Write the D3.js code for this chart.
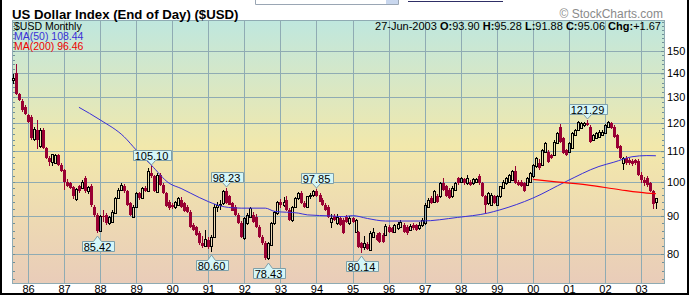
<!DOCTYPE html>
<html>
<head>
<meta charset="utf-8">
<script src="https://cdn.jsdelivr.net/npm/d3@7"></script>
<style>
  body { margin: 0; background: #fff; }
  svg { display: block; font-family: "Liberation Sans", Arial, sans-serif; }
</style>
</head>
<body>
<div id="chart"></div>
<script>
// Monthly bars, Aug 1985 .. Jun 2003
var firstMonth = new Date(1985, 7, 1);
var endMonth = new Date(2003, 6, 1);

var opens = [
  137.0, 140.0, 131.2, 128.3, 126.3,
  123.0, 122.4, 114.2, 117.5, 111.6, 117.5, 111.0, 107.6, 106.3, 106.0, 108.7, 105.4,
  103.8, 100.1, 99.6, 98.5, 94.9, 98.6, 98.1, 101.3, 97.1, 98.7, 92.6, 90.3,
  85.9, 90.0, 90.3, 88.0, 88.4, 90.8, 95.1, 97.6, 98.6, 97.1, 93.6, 89.8,
  92.6, 96.6, 95.1, 98.1, 97.1, 102.7, 101.7, 96.9, 102.2, 99.1, 96.6, 94.1,
  93.1, 92.4, 93.1, 94.6, 93.6, 92.6, 91.2, 87.5, 86.9, 85.3, 82.7, 82.0,
  83.6, 82.0, 84.4, 92.6, 93.1, 93.6, 97.1, 95.6, 93.6, 92.6, 90.3, 88.0,
  84.0, 88.0, 89.8, 90.3, 89.8, 87.1, 84.4, 82.7, 78.9, 82.3, 88.0, 90.8,
  94.1, 93.1, 94.6, 91.7, 88.9, 92.6, 95.1, 96.6, 93.6, 92.6, 95.6, 96.1,
  97.1, 96.1, 94.6, 93.1, 92.6, 88.4, 90.0, 88.0, 89.4, 88.9, 89.8, 88.0,
  89.4, 85.7, 85.7, 82.7, 81.8, 82.5, 81.0, 84.4, 84.9, 85.3, 84.9, 84.9,
  87.1, 86.6, 85.7, 86.6, 87.1, 87.5, 87.1, 86.2, 87.5, 87.5, 86.6, 87.5,
  88.0, 92.6, 95.1, 94.1, 95.6, 95.6, 99.6, 98.6, 97.6, 95.6, 97.6, 101.1,
  100.1, 100.8, 99.6, 100.1, 99.6, 100.1, 101.7, 99.6, 95.6, 93.6, 93.1, 95.6,
  93.1, 95.6, 98.1, 99.6, 100.1, 100.6, 103.3, 100.1, 100.1, 99.6, 99.1, 100.1,
  101.7, 104.9, 105.9, 105.4, 109.8, 109.8, 108.7, 108.7, 112.7, 118.7, 114.5, 110.4,
  109.8, 111.0, 115.7, 117.5, 118.1, 119.3, 120.2, 118.7, 113.9, 114.5, 115.1, 115.7,
  116.3, 118.7, 119.9, 118.7, 115.7, 111.6, 105.9, 107.6, 107.0, 106.8, 107.0, 106.8,
  102.2, 100.6, 101.1, 99.6, 97.1, 93.90
];

var highs = [
  139.6, 144.0, 131.8, 129.2, 126.8,
  123.6, 123.0, 118.5, 121.2, 118.0, 118.2, 111.5, 108.5, 109.2, 109.0, 109.2, 105.9,
  104.2, 100.8, 100.0, 98.9, 98.2, 99.0, 100.5, 102.0, 98.9, 99.3, 93.0, 90.8,
  90.4, 91.7, 90.8, 89.9, 91.6, 95.5, 98.0, 99.8, 99.3, 97.6, 94.0, 93.0,
  96.9, 97.0, 98.5, 98.6, 104.3, 105.10, 102.2, 102.9, 102.7, 99.6, 97.0, 94.5,
  93.6, 94.4, 95.5, 95.3, 94.0, 93.1, 91.6, 88.0, 87.3, 85.8, 84.6, 86.2,
  84.2, 84.9, 93.3, 94.1, 94.6, 97.4, 98.23, 96.1, 94.0, 93.2, 90.8, 88.5,
  89.8, 90.8, 92.6, 91.2, 90.5, 87.5, 84.9, 83.2, 83.0, 88.2, 91.5, 94.4,
  94.8, 95.3, 95.6, 92.2, 92.8, 95.3, 96.9, 97.1, 94.3, 95.8, 96.5, 97.4,
  97.85, 96.5, 95.0, 93.6, 93.0, 90.6, 90.5, 90.5, 89.9, 89.4, 90.4, 90.0,
  89.8, 89.2, 86.0, 83.1, 84.6, 83.0, 86.0, 86.6, 85.5, 85.7, 85.3, 87.7,
  87.6, 87.0, 87.9, 88.2, 88.8, 88.0, 87.5, 87.7, 88.0, 87.9, 88.2, 89.3,
  93.6, 95.0, 95.8, 97.6, 96.2, 100.1, 101.1, 99.1, 98.1, 98.6, 100.1, 101.6,
  101.4, 101.3, 102.2, 100.6, 101.2, 101.3, 102.5, 100.0, 96.0, 96.9, 96.5, 96.0,
  95.9, 98.9, 100.5, 101.5, 102.6, 103.8, 104.9, 100.6, 100.5, 100.0, 101.5, 103.1,
  105.8, 108.0, 107.2, 110.8, 113.1, 110.3, 109.2, 113.7, 116.8, 119.6, 115.0, 110.9,
  113.1, 116.8, 117.9, 120.7, 120.3, 120.5, 121.29, 119.1, 116.1, 116.7, 117.3, 117.3,
  119.7, 120.9, 120.3, 119.1, 116.1, 112.0, 108.0, 108.2, 107.6, 107.2, 107.4, 107.3,
  103.0, 101.6, 101.8, 100.1, 97.5, 95.28
];

var lows = [
  135.4, 130.8, 128.4, 124.3, 122.9,
  120.0, 113.8, 113.5, 110.6, 111.0, 110.6, 107.2, 105.2, 104.9, 105.6, 105.0, 103.0,
  97.6, 98.5, 97.8, 94.8, 94.3, 96.6, 97.7, 96.6, 96.4, 92.4, 89.8, 85.42,
  85.6, 88.4, 87.6, 87.6, 88.0, 90.5, 94.8, 97.2, 96.6, 92.8, 89.9, 89.4,
  92.2, 94.5, 94.8, 96.8, 96.8, 101.2, 96.8, 96.5, 98.6, 96.3, 92.4, 91.8,
  92.0, 92.0, 92.8, 92.3, 91.2, 90.9, 86.8, 85.9, 84.6, 82.3, 81.5, 81.8,
  81.3, 80.60, 84.0, 91.0, 91.8, 93.2, 93.3, 93.0, 91.3, 90.0, 87.7, 84.0,
  83.6, 87.5, 89.4, 88.0, 86.8, 84.0, 82.3, 78.6, 78.43, 81.9, 87.6, 90.4,
  92.2, 92.5, 91.5, 88.6, 88.2, 92.2, 94.6, 93.3, 92.2, 92.2, 94.8, 95.3,
  95.3, 94.0, 92.8, 91.4, 89.5, 86.6, 88.6, 87.6, 87.2, 85.0, 88.0, 87.6,
  88.0, 85.4, 81.5, 80.14, 81.0, 81.0, 80.8, 84.0, 83.2, 82.7, 82.8, 84.5,
  85.3, 85.3, 85.3, 86.2, 86.8, 85.4, 84.9, 85.9, 86.3, 85.9, 86.3, 87.1,
  87.6, 92.2, 93.3, 93.8, 93.8, 95.2, 97.3, 95.3, 94.8, 95.2, 97.2, 99.2,
  99.6, 99.2, 99.2, 98.7, 99.2, 99.6, 99.2, 95.3, 90.8, 93.2, 92.8, 93.3,
  92.8, 95.2, 97.8, 99.2, 99.8, 100.3, 99.3, 98.8, 98.3, 96.8, 98.8, 99.8,
  101.3, 104.5, 103.9, 105.0, 109.4, 106.1, 107.2, 108.3, 112.3, 112.9, 109.0, 108.3,
  109.4, 110.6, 115.3, 117.1, 117.7, 118.7, 118.9, 112.9, 113.5, 114.1, 114.7, 115.3,
  115.9, 118.3, 117.7, 114.7, 110.6, 107.2, 103.8, 105.5, 105.5, 105.2, 105.5, 101.8,
  99.8, 98.8, 98.5, 97.0, 92.0, 91.88
];

var closes = [
  137.9, 131.2, 128.9, 124.8, 123.3,
  120.5, 114.5, 117.8, 113.9, 117.5, 111.0, 107.6, 106.3, 108.9, 108.7, 105.4, 103.3,
  100.1, 98.9, 98.1, 95.6, 97.9, 97.1, 100.1, 97.1, 98.5, 93.1, 90.3, 85.9,
  90.0, 89.6, 88.0, 89.6, 91.2, 95.1, 97.6, 99.1, 97.1, 93.1, 90.3, 92.6,
  96.6, 95.1, 98.1, 97.1, 103.3, 101.7, 97.1, 102.2, 99.1, 96.6, 92.9, 92.2,
  92.6, 94.1, 95.1, 92.6, 91.5, 91.2, 87.1, 86.2, 84.9, 82.7, 82.0, 83.7,
  81.8, 84.4, 92.6, 93.1, 93.3, 97.1, 93.6, 93.1, 91.5, 90.3, 88.0, 84.4,
  89.4, 90.3, 92.2, 88.4, 87.1, 84.4, 82.7, 78.9, 82.7, 88.0, 91.2, 94.1,
  93.1, 94.1, 91.7, 88.9, 92.6, 95.1, 96.6, 93.6, 92.6, 95.6, 96.1, 97.1,
  95.6, 94.1, 93.1, 91.7, 89.8, 89.4, 88.9, 89.8, 87.5, 85.3, 88.4, 89.4,
  88.4, 88.9, 81.8, 81.4, 82.7, 81.2, 85.3, 85.7, 83.6, 83.1, 83.1, 87.3,
  85.7, 85.7, 87.5, 87.8, 88.4, 85.7, 85.3, 87.3, 86.6, 86.2, 87.5, 88.9,
  93.1, 94.6, 93.6, 97.1, 94.1, 99.6, 97.6, 95.6, 95.1, 98.1, 99.6, 99.6,
  101.1, 99.6, 101.1, 99.1, 100.8, 100.8, 99.6, 95.6, 93.1, 96.6, 96.1, 93.6,
  95.6, 98.6, 100.1, 101.1, 102.2, 103.3, 99.6, 99.1, 98.6, 97.1, 101.1, 102.7,
  105.4, 107.6, 104.3, 110.4, 112.7, 106.5, 107.6, 113.3, 116.3, 113.3, 109.3, 108.7,
  112.7, 116.3, 117.5, 120.5, 119.9, 119.9, 119.3, 113.3, 115.7, 116.3, 116.9, 116.9,
  119.3, 120.5, 118.1, 115.1, 111.0, 107.6, 107.6, 105.9, 105.9, 105.6, 105.9, 102.2,
  100.6, 99.6, 99.1, 97.1, 93.39, 95.06
];

// moving averages
var ma50Months = ["1987-06", "1988-01", "1988-09", "1989-01", "1989-06", "1989-12", "1990-04",
  "1990-10", "1991-01", "1991-04", "1991-09", "1991-12", "1992-08", "1992-11", "1993-07",
  "1993-10", "1994-06", "1994-10", "1995-01", "1995-06", "1995-12", "1996-12", "1997-12",
  "1998-10", "1999-02", "2000-01", "2000-12", "2001-11", "2002-04", "2002-10", "2003-03", "2003-06"];
var ma50Values = [126.0, 121.2, 115.0, 110.4, 105.4, 99.6, 98.0,
  95.3, 94.1, 93.1, 92.3, 92.2, 92.2, 91.3, 90.8,
  90.3, 90.0, 89.8, 90.1, 89.3, 88.6, 88.6, 89.6,
  90.8, 91.7, 95.1, 100.1, 104.9, 106.3, 108.1, 108.5, 108.44];

var ma200Months = ["2000-01", "2000-08", "2001-07", "2002-06", "2003-03", "2003-06"];
var ma200Values = [100.8, 100.1, 99.1, 97.6, 96.6, 96.46];

// labelled extremes
var calloutMonths = ["1987-12", "1989-06", "1991-02", "1991-07", "1992-09", "1994-01", "1995-04", "2001-07"];
var calloutValues = [85.42, 105.10, 80.60, 98.23, 78.43, 97.85, 80.14, 121.29];
var calloutSides = ["low", "high", "low", "high", "low", "high", "low", "high"];

var yTicks = [80, 90, 100, 110, 120, 130, 140, 150];

var svgWidth = 689;
var svgHeight = 295;
var plot = { left: 12, top: 21, right: 665, bottom: 284 };

var gridColor = "#8fabb3";
var downColor = "#990033";
var upColor = "#000000";
var ma50Color = "#3a2fd8";
var ma200Color = "#ff0000";

var parseMonth = d3.timeParse("%Y-%m");
var months = d3.timeMonth.range(firstMonth, endMonth);

var svg = d3.select("#chart").append("svg")
    .attr("width", svgWidth)
    .attr("height", svgHeight);

// scales
var x = d3.scaleTime()
    .domain([new Date(1986, 0, 1), new Date(2003, 0, 1)])
    .range([28, 641]);

var y = d3.scaleLog()
    .domain([72.9, 164.6])
    .range([plot.bottom, plot.top]);

// background gradient
var defs = svg.append("defs");
var grad = defs.append("linearGradient")
    .attr("id", "bg")
    .attr("x1", 0).attr("y1", 0).attr("x2", 0).attr("y2", 1);
grad.append("stop").attr("offset", "0%").attr("stop-color", "#bfe7de");
grad.append("stop").attr("offset", "48%").attr("stop-color", "#f2e8ab");
grad.append("stop").attr("offset", "100%").attr("stop-color", "#e9ccb9");

svg.append("rect")
    .attr("x", plot.left)
    .attr("y", plot.top)
    .attr("width", plot.right - plot.left)
    .attr("height", plot.bottom - plot.top)
    .attr("fill", "url(#bg)");

// horizontal grid
svg.append("g")
    .attr("shape-rendering", "crispEdges")
    .selectAll("line")
    .data(yTicks)
    .enter()
    .append("line")
    .attr("x1", plot.left)
    .attr("x2", plot.right)
    .attr("y1", d => Math.round(y(d)) + 0.5)
    .attr("y2", d => Math.round(y(d)) + 0.5)
    .attr("stroke", gridColor);

// x axis with vertical grid
var xAxis = d3.axisBottom(x)
    .ticks(d3.timeYear.every(1))
    .tickFormat(d3.timeFormat("%y"))
    .tickSize(-(plot.bottom - plot.top))
    .tickPadding(2);

var xAxisG = svg.append("g")
    .attr("transform", `translate(0, ${plot.bottom})`)
    .call(xAxis);
xAxisG.select(".domain").remove();
xAxisG.selectAll("line").attr("stroke", gridColor).attr("shape-rendering", "crispEdges");
xAxisG.selectAll("text")
    .attr("y", 8.6)
    .attr("dy", null)
    .attr("fill", "#000")
    .style("font-size", "11px")
    .style("font-family", "'Liberation Sans', Arial, sans-serif");

// minor ticks on both edges
var minorTicks = d3.range(74, 165, 2);
var tickG = svg.append("g").attr("stroke", "#6f8f98").attr("shape-rendering", "crispEdges");
tickG.selectAll(".lt")
    .data(minorTicks)
    .enter()
    .append("line")
    .attr("x1", plot.left)
    .attr("x2", plot.left + 3)
    .attr("y1", d => Math.round(y(d)) + 0.5)
    .attr("y2", d => Math.round(y(d)) + 0.5);
tickG.selectAll(".rt")
    .data(minorTicks)
    .enter()
    .append("line")
    .attr("x1", plot.right - 3)
    .attr("x2", plot.right)
    .attr("y1", d => Math.round(y(d)) + 0.5)
    .attr("y2", d => Math.round(y(d)) + 0.5);

// y axis labels at the right
var yAxis = d3.axisRight(y)
    .tickValues(yTicks)
    .tickFormat(d3.format("d"))
    .tickSize(-4)
    .tickPadding(2);

var yAxisG = svg.append("g")
    .attr("transform", `translate(${plot.right}, 0)`)
    .call(yAxis);
yAxisG.select(".domain").remove();
yAxisG.selectAll("line").attr("stroke", "#6f8f98");
yAxisG.selectAll("text")
    .attr("fill", "#000")
    .style("font-size", "11px")
    .style("font-family", "'Liberation Sans', Arial, sans-serif");

// plot frame
svg.append("rect")
    .attr("x", plot.left + 0.5)
    .attr("y", plot.top - 0.5)
    .attr("width", plot.right - plot.left - 1)
    .attr("height", plot.bottom - plot.top)
    .attr("fill", "none")
    .attr("stroke", gridColor);

// candles
var bars = months.map(function (m, i) {
    return { date: m, o: opens[i], h: highs[i], l: lows[i], c: closes[i] };
});

var candleG = svg.append("g").attr("shape-rendering", "crispEdges");

bars.forEach(function (d) {
    var cx = Math.round(x(d.date));
    var up = d.c >= d.o;
    var col = up ? upColor : downColor;
    var yH = Math.round(y(d.h));
    var yL = Math.round(y(d.l));
    var yTop = Math.round(y(Math.max(d.o, d.c)));
    var yBot = Math.round(y(Math.min(d.o, d.c)));

    if (up) {
        candleG.append("line")
            .attr("x1", cx + 0.5).attr("x2", cx + 0.5)
            .attr("y1", yH).attr("y2", yTop)
            .attr("stroke", col);
        candleG.append("line")
            .attr("x1", cx + 0.5).attr("x2", cx + 0.5)
            .attr("y1", yBot).attr("y2", yL)
            .attr("stroke", col);
        if (yBot - yTop < 1) {
            candleG.append("line")
                .attr("x1", cx - 1).attr("x2", cx + 2)
                .attr("y1", yTop + 0.5).attr("y2", yTop + 0.5)
                .attr("stroke", col);
        } else {
            candleG.append("rect")
                .attr("x", cx - 0.5)
                .attr("y", yTop + 0.5)
                .attr("width", 2)
                .attr("height", yBot - yTop)
                .attr("fill", "none")
                .attr("stroke", col);
        }
    } else {
        candleG.append("line")
            .attr("x1", cx + 0.5).attr("x2", cx + 0.5)
            .attr("y1", yH).attr("y2", yL)
            .attr("stroke", col);
        candleG.append("rect")
            .attr("x", cx - 1)
            .attr("y", yTop)
            .attr("width", 3)
            .attr("height", Math.max(1, yBot - yTop))
            .attr("fill", col);
    }
});

// moving averages
var maLine = d3.line()
    .x(d => x(d[0]))
    .y(d => y(d[1]))
    .curve(d3.curveMonotoneX);

svg.append("path")
    .datum(ma50Months.map((m, i) => [parseMonth(m), ma50Values[i]]))
    .attr("d", maLine)
    .attr("fill", "none")
    .attr("stroke", ma50Color)
    .attr("stroke-width", 1);

svg.append("path")
    .datum(ma200Months.map((m, i) => [parseMonth(m), ma200Values[i]]))
    .attr("d", maLine)
    .attr("fill", "none")
    .attr("stroke", ma200Color)
    .attr("stroke-width", 1.2);

// callouts
var calloutG = svg.append("g");
calloutMonths.forEach(function (m, i) {
    var v = calloutValues[i];
    var tx = Math.round(x(parseMonth(m))) + 0.5;
    var label = v.toFixed(2);
    var t = calloutG.append("text")
        .attr("text-anchor", "middle")
        .style("font-size", "11px")
        .attr("fill", "#000")
        .text(label);
    var w = t.node().getComputedTextLength() + 4;
    var h = 10;
    var bx0 = Math.round(tx - w / 2) + 0.5;
    var bx1 = bx0 + Math.round(w);
    var path, tipY, boxTop;
    if (calloutSides[i] === "high") {
        tipY = Math.round(y(v)) - 1;
        var bBot = tipY - 5;
        boxTop = bBot - h;
        path = `M${bx0},${boxTop + 0.5}H${bx1}V${bBot + 0.5}H${tx + 4}L${tx},${tipY}L${tx - 4},${bBot + 0.5}H${bx0}Z`;
    } else {
        tipY = Math.round(y(v)) + 3;
        boxTop = tipY + 5;
        path = `M${bx0},${boxTop + 0.5}H${tx - 4}L${tx},${tipY}L${tx + 4},${boxTop + 0.5}H${bx1}V${boxTop + h + 0.5}H${bx0}Z`;
    }
    calloutG.insert("path", "text")
        .attr("d", path)
        .attr("fill", "#d5f6f8")
        .attr("stroke", "#7f9fa8");
    t.attr("x", tx).attr("y", boxTop + h - 0.5);
});

// title and header texts
svg.append("text")
    .attr("x", 12)
    .attr("y", 19)
    .style("font-size", "13.2px")
    .style("font-weight", "bold")
    .attr("fill", "#000")
    .text("US Dollar Index (End of Day) ($USD)");

svg.append("text")
    .attr("x", 663)
    .attr("y", 18)
    .attr("text-anchor", "end")
    .style("font-size", "12px")
    .attr("fill", "#8a8a8a")
    .text("\u00a9 StockCharts.com");

var info = svg.append("text")
    .attr("x", 661)
    .attr("y", 29.5)
    .attr("text-anchor", "end")
    .style("font-size", "11px")
    .attr("fill", "#000");
var infoParts = [["27-Jun-2003 ", false], ["O:", true], ["93.90 ", false], ["H:", true], ["95.28 ", false],
    ["L:", true], ["91.88 ", false], ["C:", true], ["95.06 ", false], ["Chg:", true], ["+1.67", false]];
infoParts.forEach(function (p) {
    info.append("tspan")
        .style("font-weight", p[1] ? "bold" : "normal")
        .attr("xml:space", "preserve")
        .text(p[0]);
});

var legend = svg.append("g").style("font-size", "10.5px");
legend.append("text").attr("x", 14).attr("y", 29.5).attr("fill", "#000").text("$USD Monthly");
legend.append("text").attr("x", 14).attr("y", 39.5).attr("fill", ma50Color).text("MA(50) 108.44");
legend.append("text").attr("x", 14).attr("y", 49.5).attr("fill", "#ee0000").text("MA(200) 96.46");

// page fragments at the top edge
svg.append("path")
    .attr("d", "M255.5,0V4.5H398.5V0")
    .attr("fill", "none")
    .attr("stroke", "#9aa6b4");
svg.append("rect")
    .attr("x", 386).attr("y", 0).attr("width", 12).attr("height", 4)
    .attr("fill", "#c9d7ee");
svg.append("line")
    .attr("x1", 408).attr("x2", 503)
    .attr("y1", 1.5).attr("y2", 1.5)
    .attr("stroke", "#2e2e66");

// outer border
svg.append("path")
    .attr("d", `M1,0V${svgHeight - 1}H${svgWidth - 1}V0`)
    .attr("fill", "none")
    .attr("stroke", "#000")
    .attr("stroke-width", 2);
</script>
</body>
</html>
